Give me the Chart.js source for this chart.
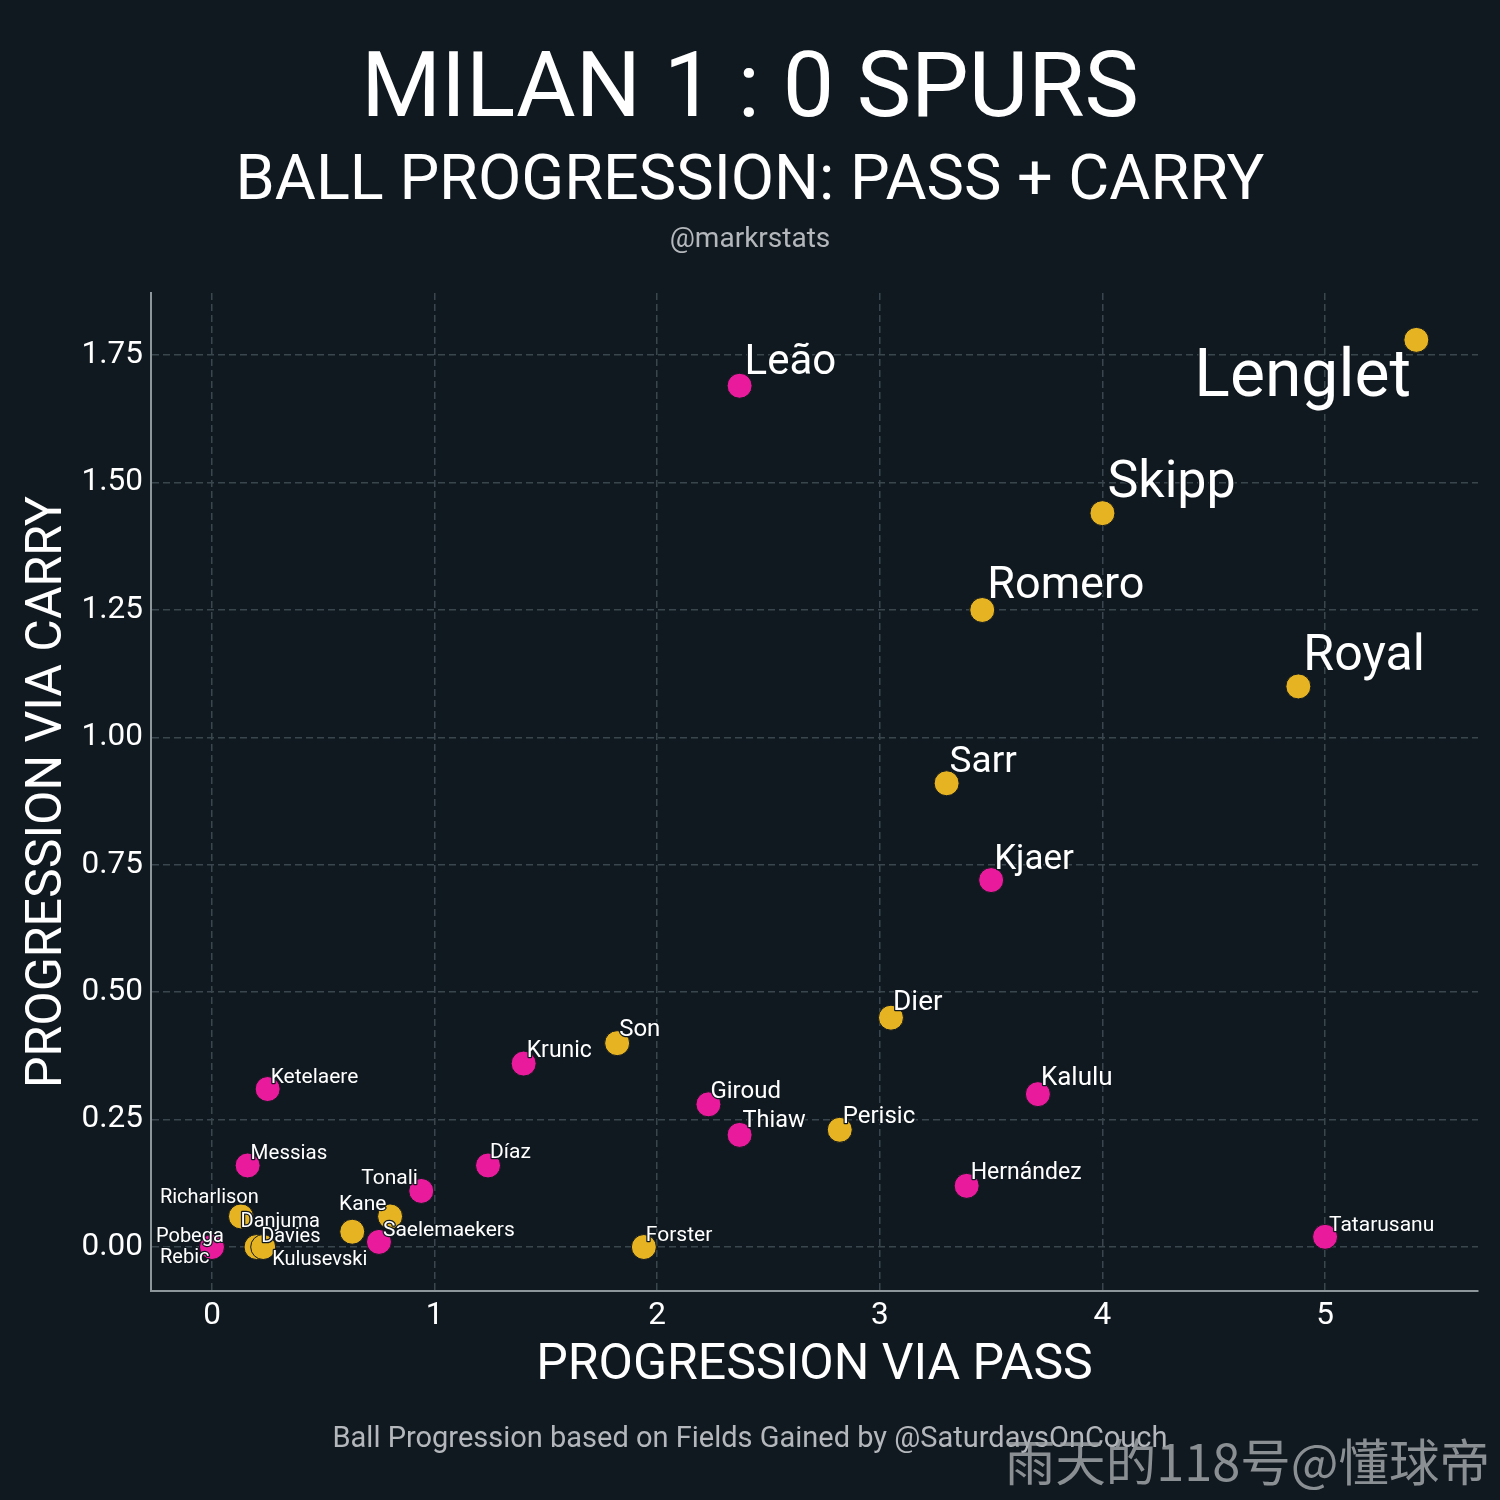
<!DOCTYPE html>
<html>
<head>
<meta charset="utf-8">
<script src="https://cdn.jsdelivr.net/npm/chart.js@4"></script>
<style>
  html, body { margin: 0; padding: 0; background: #111920; }
  canvas { display: block; }
</style>
</head>
<body>
<canvas id="chart" width="1500" height="1500"></canvas>
<script>
// AC Milan players (pink)
const milanPlayers = ['Leão', 'Kjaer', 'Krunic', 'Ketelaere', 'Giroud', 'Thiaw', 'Kalulu',
  'Hernández', 'Messias', 'Díaz', 'Tonali', 'Saelemaekers', 'Pobega', 'Rebic', 'Tatarusanu'];
const milanPass = [2.37, 3.50, 1.40, 0.25, 2.23, 2.37, 3.71, 3.39, 0.16, 1.24, 0.94, 0.75, 0.0, 0.0, 5.0];
const milanCarry = [1.69, 0.72, 0.36, 0.31, 0.28, 0.22, 0.30, 0.12, 0.16, 0.16, 0.11, 0.01, 0.0, 0.0, 0.02];

// Tottenham players (yellow)
const spursPlayers = ['Lenglet', 'Skipp', 'Romero', 'Royal', 'Sarr', 'Dier', 'Son', 'Perisic',
  'Forster', 'Richarlison', 'Danjuma', 'Davies', 'Kulusevski', 'Kane'];
const spursPass = [5.41, 4.00, 3.46, 4.88, 3.30, 3.05, 1.82, 2.82, 1.94, 0.13, 0.20, 0.23, 0.63, 0.80];
const spursCarry = [1.78, 1.44, 1.25, 1.10, 0.91, 0.45, 0.40, 0.23, 0.0, 0.06, 0.0, 0.0, 0.03, 0.06];

const xTicks = [0, 1, 2, 3, 4, 5];
const yTicks = [0, 0.25, 0.5, 0.75, 1.0, 1.25, 1.5, 1.75];

const BG = '#111920';
const PINK = '#ea1a9c';
const YELLOW = '#e6b322';

// label placement: [dx, dy, font size] relative to the point centre
const labelStyle = {
  'Leão': [5, -12, 42], 'Kjaer': [3, -11, 35], 'Krunic': [3, -7, 23], 'Ketelaere': [3, -6, 21],
  'Giroud': [2, -6, 24], 'Thiaw': [3, -8, 23.5], 'Kalulu': [3, -9, 26], 'Hernández': [4, -7, 23],
  'Messias': [3, -6, 20.5], 'Díaz': [2, -7, 21], 'Tonali': [-60, -7, 21], 'Saelemaekers': [4, -6, 21],
  'Pobega': [-56, -5, 20], 'Rebic': [-52, 16, 20], 'Tatarusanu': [4, -6, 21],
  'Lenglet': [-222, 56, 66], 'Skipp': [5, -16, 52], 'Romero': [5, -12, 45], 'Royal': [5, -16, 50],
  'Sarr': [3, -11, 37], 'Dier': [2, -8, 28], 'Son': [2, -7, 24], 'Perisic': [3, -7, 24],
  'Forster': [2, -6, 21], 'Richarlison': [-81, -13, 20], 'Danjuma': [-16, -20, 20],
  'Davies': [-2, -5, 20], 'Kulusevski': [-80, 33, 20], 'Kane': [-51, -6, 21],
};

function toPoints(xs, ys) {
  return xs.map((x, i) => ({ x: x, y: ys[i] }));
}

const bgPlugin = {
  id: 'bg',
  beforeDraw(chart) {
    const ctx = chart.ctx;
    ctx.save();
    ctx.fillStyle = BG;
    ctx.fillRect(0, 0, chart.width, chart.height);
    ctx.restore();
  },
};

const labelPlugin = {
  id: 'labels',
  afterDatasetsDraw(chart) {
    const ctx = chart.ctx;
    ctx.save();
    ctx.textAlign = 'left';
    ctx.textBaseline = 'alphabetic';
    ctx.lineJoin = 'round';
    chart.data.datasets.forEach((ds, di) => {
      const meta = chart.getDatasetMeta(di);
      meta.data.forEach((pt, i) => {
        const name = ds.names[i];
        const st = labelStyle[name] || [4, -6, 20];
        ctx.font = st[2] + 'px Roboto';
        ctx.strokeStyle = BG;
        ctx.lineWidth = 2.5;
        ctx.strokeText(name, pt.x + st[0], pt.y + st[1]);
        ctx.fillStyle = '#ffffff';
        ctx.fillText(name, pt.x + st[0], pt.y + st[1]);
      });
    });
    ctx.restore();
  },
};

const textPlugin = {
  id: 'texts',
  afterDraw(chart) {
    const ctx = chart.ctx;
    const area = chart.chartArea;
    ctx.save();
    ctx.textAlign = 'center';
    ctx.textBaseline = 'alphabetic';
    ctx.fillStyle = '#ffffff';
    ctx.font = '91.5px Roboto';
    ctx.fillText('MILAN 1 : 0 SPURS', 750, 116);
    ctx.font = '63px Roboto';
    ctx.fillText('BALL PROGRESSION: PASS + CARRY', 750, 199);
    ctx.fillStyle = '#b4b8bc';
    ctx.font = '28px Roboto';
    ctx.fillText('@markrstats', 750, 247);

    // axis titles
    ctx.fillStyle = '#ffffff';
    ctx.font = '50px Roboto';
    ctx.fillText('PROGRESSION VIA PASS', (area.left + area.right) / 2, 1379);
    ctx.save();
    ctx.translate(61, (area.top + area.bottom) / 2);
    ctx.rotate(-Math.PI / 2);
    ctx.fillText('PROGRESSION VIA CARRY', 0, 0);
    ctx.restore();

    ctx.fillStyle = '#b4b8bc';
    ctx.font = '29px Roboto';
    ctx.fillText('Ball Progression based on Fields Gained by @SaturdaysOnCouch', 750, 1447);

    ctx.textAlign = 'right';
    ctx.fillStyle = 'rgba(160, 164, 168, 0.85)';
    ctx.font = '50.5px "Noto Sans CJK SC"';
    ctx.fillText('雨天的118号@懂球帝', 1490, 1481);
    ctx.restore();
  },
};

new Chart(document.getElementById('chart'), {
  type: 'scatter',
  data: {
    datasets: [
      {
        label: 'Milan',
        names: milanPlayers,
        data: toPoints(milanPass, milanCarry),
        backgroundColor: PINK,
        borderColor: BG,
        borderWidth: 1,
        pointRadius: 12.5,
      },
      {
        label: 'Spurs',
        names: spursPlayers,
        data: toPoints(spursPass, spursCarry),
        backgroundColor: YELLOW,
        borderColor: BG,
        borderWidth: 1,
        pointRadius: 12.5,
      },
    ],
  },
  options: {
    responsive: false,
    devicePixelRatio: 1,
    animation: false,
    events: [],
    layout: { padding: { top: 293, right: 22, bottom: 0, left: 0 } },
    plugins: {
      legend: { display: false },
      tooltip: { enabled: false },
    },
    scales: {
      x: {
        type: 'linear',
        min: -0.274,
        max: 5.687,
        afterFit: scale => { scale.height = 209; },
        afterBuildTicks: scale => { scale.ticks = xTicks.map(v => ({ value: v })); },
        grid: { color: '#3a464d', lineWidth: 1.5, drawTicks: false },
        border: { display: true, color: '#8d969b', width: 2, dash: [7, 4] },
        ticks: {
          color: '#ffffff',
          font: { family: 'Roboto', size: 31.5 },
          padding: 6,
          callback: v => String(v),
        },
      },
      y: {
        type: 'linear',
        min: -0.0863,
        max: 1.872,
        afterFit: scale => { scale.width = 151; },
        afterBuildTicks: scale => { scale.ticks = yTicks.map(v => ({ value: v })); },
        grid: { color: '#3a464d', lineWidth: 1.5, drawTicks: false },
        border: { display: true, color: '#8d969b', width: 2, dash: [7, 4] },
        ticks: {
          color: '#ffffff',
          font: { family: 'Roboto', size: 31.5 },
          padding: 8,
          callback: v => Number(v).toFixed(2),
        },
      },
    },
  },
  plugins: [bgPlugin, labelPlugin, textPlugin],
});
</script>
</body>
</html>
